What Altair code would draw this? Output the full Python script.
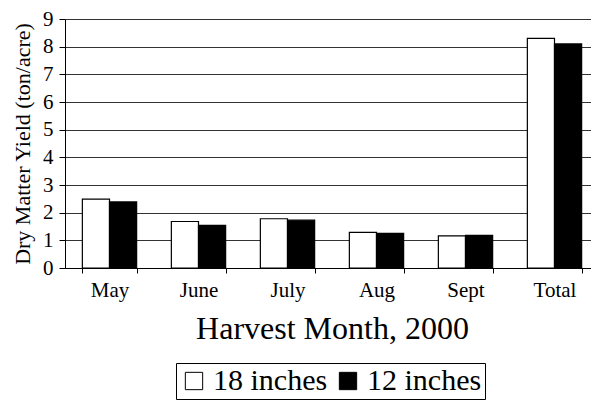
import altair as alt
import pandas as pd

months = ["May", "June", "July", "Aug", "Sept", "Total"]
series = ["18 inches", "12 inches"]
yield_18 = [2.49, 1.68, 1.78, 1.29, 1.16, 8.30]
yield_12 = [2.39, 1.54, 1.73, 1.25, 1.18, 8.10]

rows = []
for m, a, b in zip(months, yield_18, yield_12):
    rows.append({"month": m, "series": series[0], "value": a})
    rows.append({"month": m, "series": series[1], "value": b})
df = pd.DataFrame(rows)

FONT = "Liberation Serif"

chart = alt.Chart(df).mark_bar(stroke="black", strokeWidth=1.2).encode(
    x=alt.X("month:N", sort=months,
            scale=alt.Scale(paddingInner=0.39, paddingOuter=0.195, range=[0, 534]),
            axis=alt.Axis(title="Harvest Month, 2000", labelAngle=0,
                          tickBand="extent", labelFontSize=21, titleFontSize=32,
                          titleFontWeight="normal", labelPadding=6, titlePadding=13,
                          domainColor="black", tickColor="black", labelColor="black",
                          titleColor="black", labelFont=FONT, titleFont=FONT, tickSize=5)),
    xOffset=alt.XOffset("series:N", sort=series),
    y=alt.Y("value:Q", scale=alt.Scale(domain=[0, 9]),
            axis=alt.Axis(title="Dry Matter Yield (ton/acre)", values=list(range(10)),
                          tickCount=10, labelFontSize=21, titleFontSize=22,
                          titleFontWeight="normal", grid=True, gridColor="#333333",
                          gridOpacity=1, domainColor="black", tickColor="black",
                          labelColor="black", titleColor="black", labelFont=FONT,
                          titleFont=FONT, tickSize=6, labelPadding=6, titlePadding=8)),
    color=alt.Color("series:N", sort=series,
                    scale=alt.Scale(domain=series, range=["white", "black"]),
                    legend=alt.Legend(title=None, orient="none", direction="horizontal",
                                      legendX=111, legendY=344,
                                      labelFontSize=30, labelFont=FONT, labelColor="black",
                                      symbolType="square", symbolSize=300,
                                      symbolStrokeColor="black", symbolStrokeWidth=1,
                                      strokeColor="black", padding=3,
                                      columnPadding=5, labelOffset=4)),
).properties(
    width=526, height=249,
    autosize=alt.AutoSizeParams(type="none"),
    padding={"left": 57, "top": 11, "right": 0, "bottom": 133},
).configure(font=FONT).configure_view(stroke=None).configure_axis(
    domainWidth=1, labelFont=FONT, titleFont=FONT
).configure_legend(
    labelFont=FONT, labelFontSize=30, labelColor="black"
)

chart.save("out.html", embed_options={"renderer": "svg", "actions": False})
